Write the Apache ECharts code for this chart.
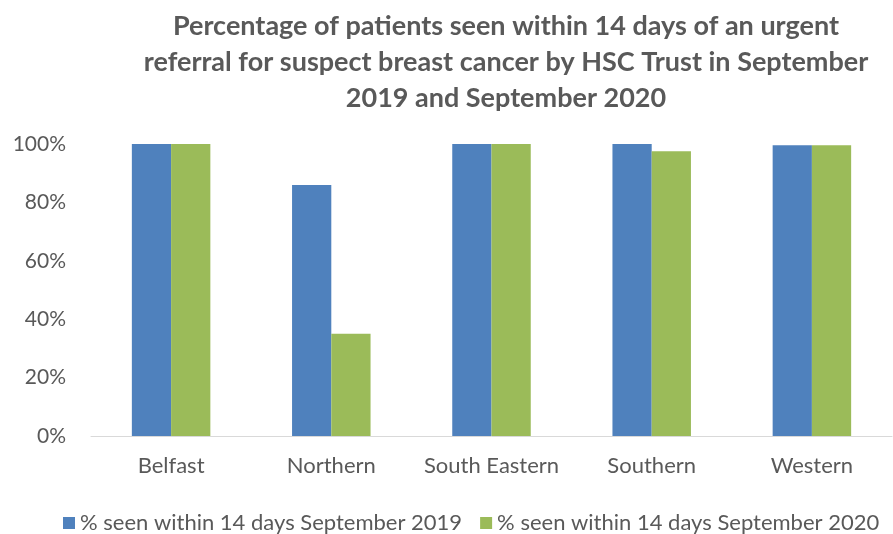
<!DOCTYPE html>
<html>
<head>
<meta charset="utf-8">
<script src="https://cdn.jsdelivr.net/npm/echarts@6/dist/echarts.min.js"></script>
<style>
  html, body { margin: 0; padding: 0; background: #fff; }
  #main { width: 893px; height: 534px; }
</style>
</head>
<body>
<div id="main"></div>
<script>
var trusts = ['Belfast', 'Northern', 'South Eastern', 'Southern', 'Western'];
var sep2019 = [100, 86, 100, 100, 99.6];
var sep2020 = [100, 35, 100, 97.5, 99.6];
var seriesNames = ['% seen within 14 days September 2019', '% seen within 14 days September 2020'];

var textColor = '#595959';
var fontFam = 'Lato, "Open Sans", sans-serif';

var myChart = echarts.init(document.getElementById('main'));

myChart.setOption({
  title: {
    text: 'Percentage of patients seen within 14 days of an urgent\nreferral for suspect breast cancer by HSC Trust in September\n2019 and September 2020',
    left: 501,
    textAlign: 'center',
    top: 3,
    textStyle: {
      color: textColor,
      fontFamily: fontFam,
      fontWeight: 'bold',
      fontSize: 27,
      lineHeight: 36
    }
  },
  legend: {
    top: 507,
    left: 58,
    itemWidth: 12,
    itemHeight: 12,
    itemGap: 18,
    icon: 'rect',
    textStyle: { color: textColor, fontFamily: fontFam, fontSize: 22 }
  },
  grid: {
    left: 91,
    right: 1,
    top: 144,
    bottom: 98,
    containLabel: false
  },
  xAxis: {
    type: 'category',
    data: trusts,
    axisLine: { show: true, lineStyle: { color: '#d9d9d9', width: 1 } },
    axisTick: { show: false },
    axisLabel: { color: textColor, fontFamily: fontFam, fontSize: 22, margin: 19, interval: 0 }
  },
  yAxis: {
    type: 'value',
    min: 0,
    max: 100,
    interval: 20,
    axisLine: { show: false },
    axisTick: { show: false },
    splitLine: { show: false },
    axisLabel: {
      color: textColor, fontFamily: fontFam, fontSize: 21, margin: 25,
      formatter: '{value}%'
    }
  },
  series: [
    {
      name: seriesNames[0],
      type: 'bar',
      data: sep2019,
      barGap: '0%',
      barCategoryGap: '51%',
      itemStyle: { color: '#4f81bd' }
    },
    {
      name: seriesNames[1],
      type: 'bar',
      data: sep2020,
      itemStyle: { color: '#9bbb59' }
    }
  ]
});
</script>
</body>
</html>
